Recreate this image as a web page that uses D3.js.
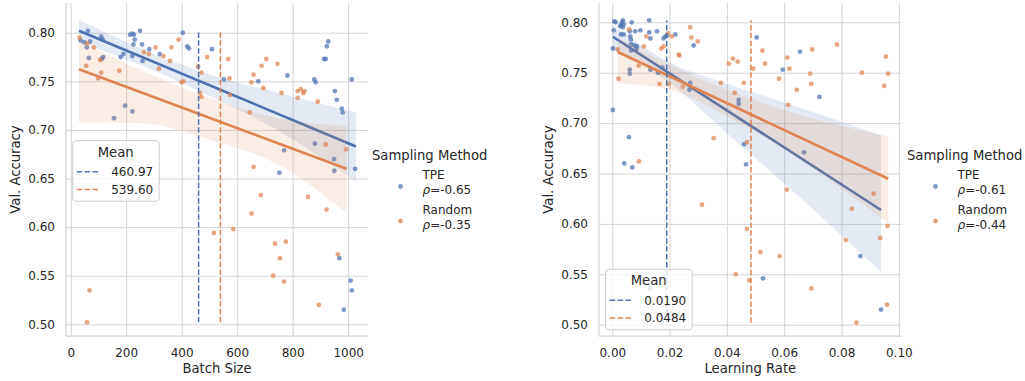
<!DOCTYPE html>
<html>
<head>
<meta charset="utf-8">
<script src="https://cdn.jsdelivr.net/npm/d3@7"></script>
<style>
  body { margin: 0; background: #fff; }
  text { font-family: "DejaVu Sans", sans-serif; fill: #262626; }
</style>
</head>
<body>
<svg id="chart" width="1025" height="381"></svg>
<script>
// values
const methods = ['TPE', 'Random'];
const accTicks = [0.50, 0.55, 0.60, 0.65, 0.70, 0.75, 0.80];
const batchTicks = [0, 200, 400, 600, 800, 1000];
const lrTicks = [0, 0.02, 0.04, 0.06, 0.08, 0.10];

const batchRho = ['-0.65', '-0.35'];
const batchMeans = [460.97, 539.60];
const batchMeanLabels = ['460.97', '539.60'];

const lrRho = ['-0.61', '-0.44'];
const lrMeans = [0.0190, 0.0484];
const lrMeanLabels = ['0.0190', '0.0484'];

// [batch size, val. accuracy]
const batchTpe = [
  [36, .792], [50, .790], [62, .802], [70, .791], [58, .785], [66, .774], [110, .796], [115, .793],
  [112, .773], [117, .775], [156, .712], [196, .725], [222, .719], [180, .775], [190, .778], [214, .798],
  [222, .799], [228, .798], [250, .802], [231, .793], [226, .788], [257, .788], [222, .776], [259, .771],
  [283, .783], [321, .778], [404, .800], [420, .786], [426, .784], [509, .783], [552, .752], [676, .750],
  [781, .756], [878, .752], [883, .749], [928, .791], [923, .786], [919, .773], [913, .773], [952, .740],
  [959, .731], [977, .722], [980, .718], [1013, .752], [880, .686], [769, .679], [949, .670], [950, .658],
  [752, .656], [1025, .660], [968, .568], [1009, .545], [1013, .535], [984, .515]
];
const batchRandom = [
  [32, .795], [60, .789], [84, .785], [106, .772], [56, .766], [110, .759], [99, .753], [175, .761],
  [264, .780], [282, .778], [306, .785], [318, .763], [334, .776], [358, .771], [363, .785], [389, .793],
  [399, .749], [406, .750], [459, .765], [466, .738], [471, .734], [471, .759], [492, .775], [568, .773],
  [572, .753], [574, .736], [659, .757], [651, .749], [688, .766], [705, .773], [694, .743], [745, .768],
  [760, .738], [645, .718], [818, .740], [829, .742], [842, .740], [838, .738], [818, .733], [890, .729],
  [919, .685], [992, .680], [659, .662], [68, .535], [59, .502], [685, .633], [652, .614], [516, .594],
  [586, .598], [736, .583], [775, .585], [754, .568], [730, .550], [769, .544], [855, .631], [922, .618],
  [963, .572], [894, .520]
];
// regression fit: [x, y] end points, band: [x, lower, upper]
const batchTpeFit = [[30, .802], [1028, .683]];
const batchTpeBand = [[30, .790, .813], [250, .767, .784], [500, .735, .757], [750, .699, .738], [1028, .647, .718]];
const batchRandomFit = [[30, .7625], [994, .660]];
const batchRandomBand = [[30, .708, .792], [250, .707, .762], [500, .690, .733], [750, .664, .712], [994, .615, .704]];

// [learning rate, val. accuracy]
const lrTpe = [
  [0.0007, .801], [0.0012, .800], [0.0037, .802], [0.0034, .800], [0.0030, .797], [0.0040, .798], [0.0028, .796],
  [0.0037, .795], [0.0068, .800], [0.0005, .792], [0.0002, .774], [0.0002, .713], [0.0030, .788], [0.0040, .788],
  [0.0061, .791], [0.0063, .786], [0.0065, .783], [0.0080, .791], [0.0098, .792], [0.0065, .778], [0.0077, .777],
  [0.0086, .776], [0.0084, .773], [0.0066, .772], [0.0129, .802], [0.0129, .790], [0.0156, .791], [0.0133, .784],
  [0.0061, .753], [0.0061, .749], [0.0133, .753], [0.0160, .750], [0.0175, .755], [0.0179, .784], [0.0185, .786],
  [0.0191, .787], [0.0220, .788], [0.0284, .777], [0.0272, .740], [0.0269, .733], [0.0441, .723], [0.0441, .719],
  [0.0058, .686], [0.0042, .660], [0.0070, .656], [0.0460, .679], [0.0467, .659], [0.0504, .785], [0.0655, .771],
  [0.0595, .753], [0.0723, .726], [0.0669, .671], [0.0526, .546], [0.0866, .568], [0.0938, .515], [0.0132, .536]
];
const lrRandom = [
  [0.0059, .793], [0.0019, .773], [0.0022, .744], [0.0092, .757], [0.0119, .786], [0.0110, .776], [0.0171, .774],
  [0.0179, .776], [0.0194, .789], [0.0208, .786], [0.0165, .739], [0.0197, .739], [0.0232, .768], [0.0234, .767],
  [0.0272, .795], [0.0276, .785], [0.0298, .781], [0.0246, .736], [0.0354, .685], [0.0093, .662], [0.0379, .740],
  [0.0407, .759], [0.0421, .764], [0.0438, .761], [0.0427, .730], [0.0459, .740], [0.0470, .681], [0.0524, .772],
  [0.0533, .759], [0.0492, .754], [0.0611, .765], [0.0618, .754], [0.0582, .744], [0.0698, .773], [0.0691, .749],
  [0.0694, .739], [0.0644, .733], [0.0614, .718], [0.0784, .778], [0.0871, .750], [0.0955, .766], [0.0963, .749],
  [0.0949, .737], [0.0609, .634], [0.0313, .619], [0.0470, .595], [0.0517, .572], [0.0584, .568], [0.0431, .550],
  [0.0478, .544], [0.0695, .536], [0.0815, .584], [0.0836, .615], [0.0912, .630], [0.0935, .586], [0.0961, .598],
  [0.0959, .520], [0.0852, .502]
];
const lrTpeFit = [[0.0002, .7857], [0.0938, .6138]];
const lrTpeBand = [[0.0002, .773, .797], [0.02, .740, .760], [0.04, .690, .739], [0.06, .640, .7205], [0.0938, .5526, .688]];
const lrRandomFit = [[0.0019, .7705], [0.0963, .6448]];
const lrRandomBand = [[0.0019, .7395, .785], [0.02, .733, .758], [0.04, .707, .733], [0.06, .674, .713], [0.0963, .6007, .6865]];

const colors = ['#4c72b0', '#dd8452'];
const gridColor = '#d5d5d5';

const svg = d3.select('#chart');

function drawPanel(p) {
  const g = svg.append('g');
  const x = d3.scaleLinear().domain(p.xDomain).range([p.left, p.right]);
  const y = d3.scaleLinear().domain(p.yDomain).range([p.bottom, p.top]);

  // grid + tick labels
  const yAxis = g.append('g')
    .attr('transform', `translate(${p.left},0)`)
    .call(d3.axisLeft(y).tickValues(accTicks).tickFormat(d3.format('.2f'))
      .tickSize(-(p.right - p.left)).tickPadding(11));
  const xAxis = g.append('g')
    .attr('transform', `translate(0,${p.bottom})`)
    .call(d3.axisBottom(x).tickValues(p.xTicks).tickFormat(p.xFormat)
      .tickSize(-(p.bottom - p.top)).tickPadding(12.5));
  [xAxis, yAxis].forEach(a => {
    a.select('.domain').remove();
    a.selectAll('line').attr('stroke', gridColor).attr('stroke-width', 1);
    a.selectAll('text').attr('font-size', 12).attr('fill', '#262626')
      .attr('font-family', '"DejaVu Sans", sans-serif');
  });

  // spines (left, bottom)
  g.append('line').attr('x1', p.left).attr('x2', p.left).attr('y1', p.top).attr('y2', p.bottom)
    .attr('stroke', gridColor).attr('stroke-width', 1.25);
  g.append('line').attr('x1', p.left).attr('x2', p.right).attr('y1', p.bottom).attr('y2', p.bottom)
    .attr('stroke', gridColor).attr('stroke-width', 1.25);

  // axis titles
  g.append('text')
    .attr('x', (p.left + p.right) / 2).attr('y', 373)
    .attr('text-anchor', 'middle').attr('font-size', 13.2)
    .text(p.xLabel);
  g.append('text')
    .attr('transform', `translate(${p.yLabelX},${(p.top + p.bottom) / 2}) rotate(-90)`)
    .attr('text-anchor', 'middle').attr('dy', '0.35em').attr('font-size', 13.2)
    .text('Val. Accuracy');

  const area = d3.area()
    .curve(d3.curveMonotoneX)
    .x(d => x(d[0]))
    .y0(d => y(d[1]))
    .y1(d => y(d[2]));
  const line = d3.line()
    .x(d => x(d[0]))
    .y(d => y(d[1]));

  p.series.forEach((s, i) => {
    g.append('g').selectAll('circle')
      .data(s.points)
      .join('circle')
      .attr('cx', d => x(d[0]))
      .attr('cy', d => y(d[1]))
      .attr('r', 2.4)
      .attr('fill', colors[i])
      .attr('fill-opacity', 0.72);

    g.append('path')
      .datum(s.band)
      .attr('d', area)
      .attr('fill', colors[i])
      .attr('fill-opacity', 0.15);

    g.append('path')
      .datum(s.fit)
      .attr('d', line)
      .attr('fill', 'none')
      .attr('stroke', colors[i])
      .attr('stroke-width', 2.6);
  });

  // mean lines span the range of all accuracies
  const allY = p.series.flatMap(s => s.points.map(d => d[1]));
  const [yMin, yMax] = d3.extent(allY);
  g.append('g').selectAll('line')
    .data(p.means)
    .join('line')
    .attr('x1', d => x(d)).attr('x2', d => x(d))
    .attr('y1', y(yMin)).attr('y2', y(yMax))
    .attr('stroke', (d, i) => colors[i])
    .attr('stroke-width', 1.5)
    .attr('stroke-dasharray', '5.5,2.4');

  // Mean legend
  const ml = g.append('g').attr('transform', `translate(${p.meanLegend[0]},${p.meanLegend[1]})`);
  ml.append('rect')
    .attr('width', 86.5).attr('height', 60.5).attr('rx', 3)
    .attr('fill', '#fff').attr('fill-opacity', 0.8)
    .attr('stroke', '#cccccc').attr('stroke-width', 1);
  ml.append('text')
    .attr('x', 43).attr('y', 16).attr('text-anchor', 'middle').attr('font-size', 13.2)
    .text('Mean');
  p.meanLabels.forEach((lab, i) => {
    const yy = 31 + i * 17.7;
    ml.append('line')
      .attr('x1', 4).attr('x2', 27.5).attr('y1', yy).attr('y2', yy)
      .attr('stroke', colors[i]).attr('stroke-width', 1.5)
      .attr('stroke-dasharray', '5.5,2.4');
    ml.append('text')
      .attr('x', 38.5).attr('y', yy + 4.3).attr('font-size', 12)
      .text(lab);
  });

  // Sampling Method legend
  const sl = svg.append('g').attr('transform', `translate(${p.methodLegendX},0)`);
  sl.append('text').attr('x', 0).attr('y', 159.5).attr('font-size', 13.2).text('Sampling Method');
  methods.forEach((m, i) => {
    const base = 178.5 + i * 35.5;
    sl.append('circle')
      .attr('cx', 28.5).attr('cy', 186.5 + i * 34.5).attr('r', 2.4)
      .attr('fill', colors[i]).attr('fill-opacity', 0.72);
    sl.append('text').attr('x', 50.5).attr('y', base).attr('font-size', 12).text(m);
    const t = sl.append('text').attr('x', 50.5).attr('y', base + 15).attr('font-size', 12);
    t.append('tspan').attr('font-style', 'italic').text('\u03c1');
    t.append('tspan').text('=' + p.rho[i]);
  });
}

drawPanel({
  left: 66, right: 368, top: 3, bottom: 336,
  xDomain: [-16.9, 1071.4], yDomain: [0.48796, 0.8306],
  xTicks: batchTicks, xFormat: d3.format('d'),
  xLabel: 'Batch Size', yLabelX: 15,
  series: [
    { points: batchTpe, fit: batchTpeFit, band: batchTpeBand },
    { points: batchRandom, fit: batchRandomFit, band: batchRandomBand }
  ],
  means: batchMeans, meanLabels: batchMeanLabels, meanLegend: [72.7, 140.7],
  rho: batchRho, methodLegendX: 372
});

drawPanel({
  left: 599, right: 901.7, top: 3, bottom: 336,
  xDomain: [-0.00464, 0.10101], yDomain: [0.48879, 0.81915],
  xTicks: lrTicks, xFormat: d3.format('.2f'),
  xLabel: 'Learning Rate', yLabelX: 548.5,
  series: [
    { points: lrTpe, fit: lrTpeFit, band: lrTpeBand },
    { points: lrRandom, fit: lrRandomFit, band: lrRandomBand }
  ],
  means: lrMeans, meanLabels: lrMeanLabels, meanLegend: [605.7, 269.3],
  rho: lrRho, methodLegendX: 907
});
</script>
</body>
</html>
